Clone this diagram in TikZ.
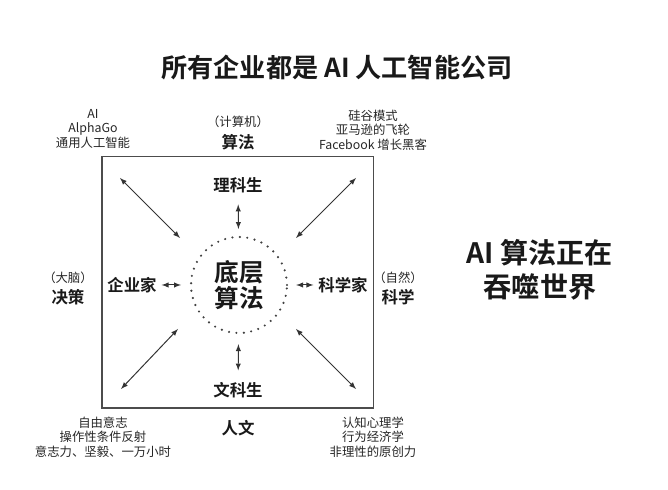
\documentclass[tikz,border=0pt]{standalone}
\usepackage{fontspec}
\setmainfont{Noto Sans CJK SC}[BoldFont={Noto Sans CJK SC Bold}]
\usepackage{tikz}
\usetikzlibrary{calc}

\begin{document}
\begin{tikzpicture}[
  note/.style={font=\fontsize{8.8}{10.4}\selectfont, text=black!85, align=center},
  role/.style={font=\fontsize{11.7}{14}\selectfont\bfseries, text=black!90},
  link/.style={latex-latex, draw=black!80, line width=0.7pt}
]
\useasboundingbox (0,0) rectangle (16.7,12.25);
% title
\node[font=\fontsize{18.6}{20}\selectfont\bfseries, text=black!90] (title) at (8.425,10.55) {所有企业都是 AI 人工智能公司};
% frame and core
\node[draw=black!70, line width=0.8pt, minimum width=6.78cm, minimum height=6.28cm] (frame) at (5.94,5.19) {};
\node[circle, draw=black!75, line width=1.7pt, line cap=round, dash pattern=on 0pt off 5.3pt, minimum size=2.4cm, align=center, font=\fontsize{17.5}{18.5}\selectfont\bfseries, text=black!90] (core) at (5.975,5.125) {底层\\算法};
% inner roles
\node[role] (like) at (5.95,7.625) {理科生};
\node[role] (wenke) at (5.95,2.5) {文科生};
\node[role] (boss) at (3.3,5.125) {企业家};
\node[role] (sci) at (8.575,5.125) {科学家};
\draw[link, shorten <=0.17cm, shorten >=0.17cm] (like) -- (core);
\draw[link, shorten <=0.25cm, shorten >=0.17cm] (core) -- (wenke);
\draw[link, shorten >=0.22cm] (boss) -- (core);
\draw[link, shorten <=0.2cm] (core) -- (sci);
% diagonals
\coordinate (tl) at (3.0,7.8);   \coordinate (tlin) at (4.5,6.3);
\coordinate (tr) at (8.9,7.8);   \coordinate (trin) at (7.4,6.3);
\coordinate (bl) at (3.025,2.525); \coordinate (blin) at (4.45,4.025);
\coordinate (br) at (8.9,2.525); \coordinate (brin) at (7.4,4.025);
\draw[link] (tl) -- (tlin);
\draw[link] (tr) -- (trin);
\draw[link] (bl) -- (blin);
\draw[link] (br) -- (brin);
% outer labels
\node[note] (jsj) at (5.95,9.2) {（计算机）};
\node[role] (suanfa) at (5.95,8.7) {算法};
\node[role] (renwen) at (5.95,1.55) {人文};
\node[note] (danao) at (1.7,5.3) {（大脑）};
\node[role] (juece) at (1.7,4.825) {决策};
\node[note] (ziran) at (9.95,5.3) {（自然）};
\node[role] (kexue) at (9.95,4.825) {科学};
% corner notes
\node[note] (ai) at (2.325,9.025) {AI\\AlphaGo\\通用人工智能};
\node[note] (sv) at (9.325,9.0) {硅谷模式\\亚马逊的飞轮\\Facebook 增长黑客};
\node[note] (will) at (2.575,1.325) {自由意志\\操作性条件反射\\意志力、坚毅、一万小时};
\node[note] (cog) at (9.325,1.325) {认知心理学\\行为经济学\\非理性的原创力};
% slogan
\node[align=center, font=\fontsize{20}{24}\selectfont\bfseries, text=black!90] (slogan) at (13.5,5.5) {AI 算法正在\\吞噬世界};
\end{tikzpicture}
\end{document}
